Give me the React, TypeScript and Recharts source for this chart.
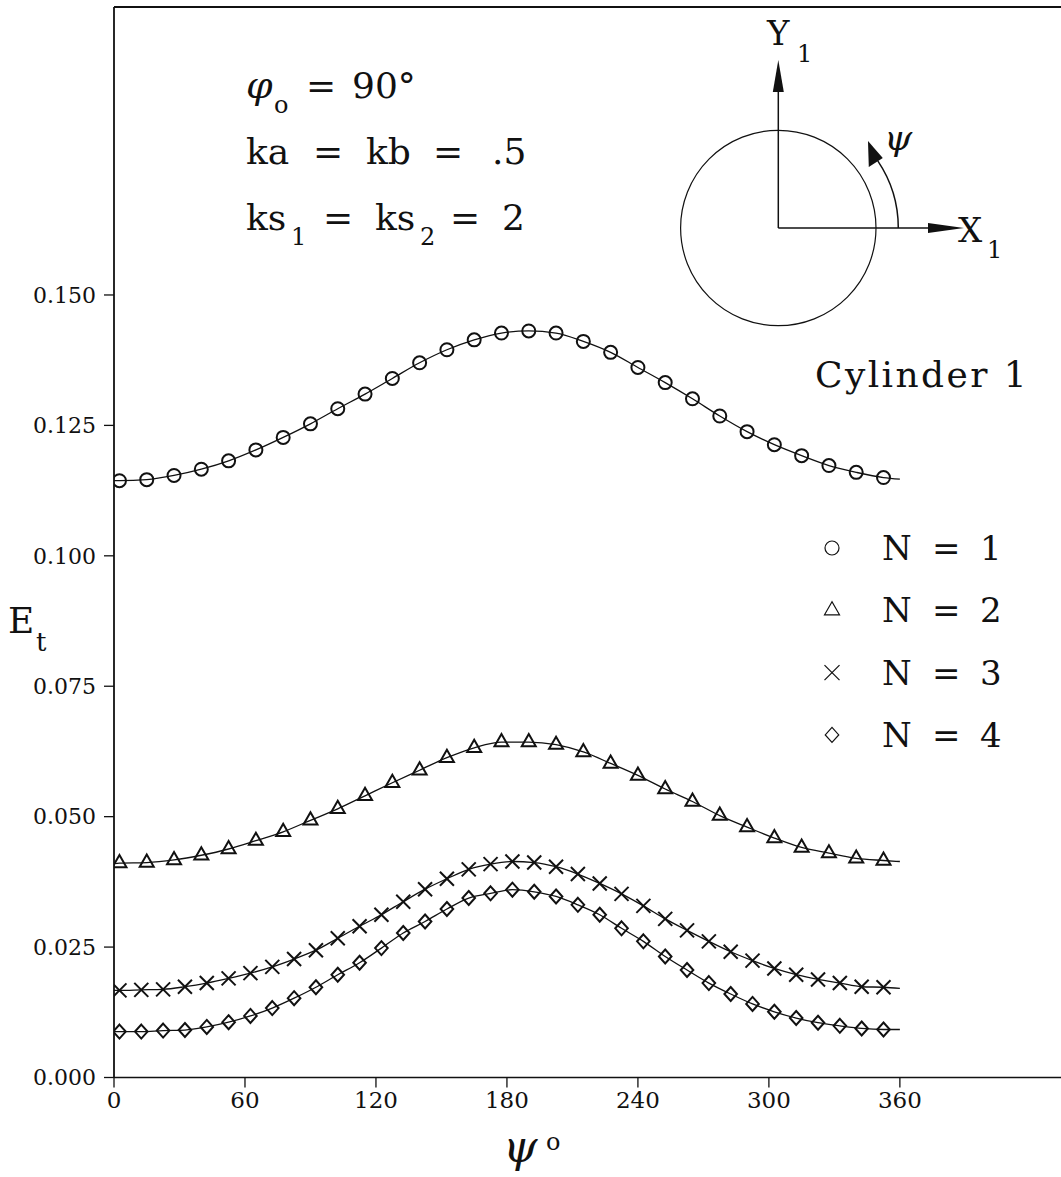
import { ComposedChart, Legend, Line, ReferenceLine, XAxis, YAxis } from 'recharts'

// psi (degrees) where the markers sit
const psiCoarse = [2.5, 15, 27.5, 40, 52.5, 65, 77.5, 90, 102.5, 115, 127.5, 140, 152.5, 165, 177.5, 190, 202.5, 215, 227.5, 240, 252.5, 265, 277.5, 290, 302.5, 315, 327.5, 340, 352.5]
const psiFine = [2.5, 12.5, 22.5, 32.5, 42.5, 52.5, 62.5, 72.5, 82.5, 92.5, 102.5, 112.5, 122.5, 132.5, 142.5, 152.5, 162.5, 172.5, 182.5, 192.5, 202.5, 212.5, 222.5, 232.5, 242.5, 252.5, 262.5, 272.5, 282.5, 292.5, 302.5, 312.5, 322.5, 332.5, 342.5, 352.5]

// E_t
const etN1 = [0.1144, 0.1146, 0.1154, 0.1166, 0.1182, 0.1203, 0.1227, 0.1253, 0.1282, 0.131, 0.134, 0.137, 0.1395, 0.1414, 0.1427, 0.1431, 0.1427, 0.1411, 0.139, 0.1361, 0.1332, 0.1301, 0.1268, 0.1238, 0.1213, 0.1192, 0.1173, 0.116, 0.115]
const etN2 = [0.0411, 0.0412, 0.0417, 0.0426, 0.0438, 0.0454, 0.0471, 0.0493, 0.0515, 0.054, 0.0565, 0.0589, 0.0613, 0.0632, 0.0643, 0.0643, 0.0638, 0.0624, 0.0602, 0.0579, 0.0553, 0.0529, 0.0502, 0.048, 0.0459, 0.0441, 0.043, 0.042, 0.0416]
const etN3 = [0.0167, 0.0168, 0.0169, 0.0174, 0.0181, 0.019, 0.02, 0.0212, 0.0227, 0.0244, 0.0267, 0.029, 0.0312, 0.0337, 0.0361, 0.0381, 0.0399, 0.0409, 0.0414, 0.0412, 0.0404, 0.039, 0.0372, 0.0352, 0.0329, 0.0304, 0.0282, 0.0261, 0.0241, 0.0224, 0.0209, 0.0197, 0.0188, 0.0181, 0.0174, 0.0173]
const etN4 = [0.0088, 0.0088, 0.009, 0.0091, 0.0097, 0.0106, 0.0118, 0.0133, 0.0152, 0.0173, 0.0197, 0.022, 0.0248, 0.0277, 0.0299, 0.0323, 0.0344, 0.0353, 0.036, 0.0356, 0.0347, 0.0331, 0.0312, 0.0286, 0.0261, 0.0232, 0.0206, 0.0181, 0.016, 0.0141, 0.0126, 0.0114, 0.0105, 0.0099, 0.0094, 0.0092]
// curve values at psi = 0 and psi = 360
const endsN1 = [0.1144, 0.1147]
const endsN2 = [0.041, 0.0414]
const endsN3 = [0.0167, 0.0171]
const endsN4 = [0.0088, 0.0092]

const seriesNames = ['N = 1', 'N = 2', 'N = 3', 'N = 4']
const markerKinds = ['circle', 'triangle', 'cross', 'diamond']
const xTicks = [0, 60, 120, 180, 240, 300, 360]
const yTicks = [0, 0.025, 0.05, 0.075, 0.1, 0.125, 0.15]
const X_MAX = 436.1
const Y_MAX = 0.2052

const FONT = '"DejaVu Serif", serif'
const INK = '#111'

function buildCurve(psi: number[], et: number[], ends: number[]) {
  return [
    { psi: 0, et: ends[0], mark: false },
    ...psi.map((p, i) => ({ psi: p, et: et[i], mark: true })),
    { psi: 360, et: ends[1], mark: false },
  ]
}

const curves = [
  buildCurve(psiCoarse, etN1, endsN1),
  buildCurve(psiCoarse, etN2, endsN2),
  buildCurve(psiFine, etN3, endsN3),
  buildCurve(psiFine, etN4, endsN4),
]

function Marker({ kind, cx, cy, s = 7, sw = 2 }: { kind: string; cx: number; cy: number; s?: number; sw?: number }) {
  const common = { fill: 'none', stroke: INK, strokeWidth: sw }
  if (kind === 'circle') return <circle cx={cx} cy={cy} r={s - 0.5} {...common} />
  if (kind === 'triangle')
    return <polygon points={`${cx},${cy - s - 1} ${cx - s},${cy + s * 0.6} ${cx + s},${cy + s * 0.6}`} {...common} />
  if (kind === 'cross')
    return (
      <g {...common}>
        <line x1={cx - s} y1={cy - s} x2={cx + s} y2={cy + s} />
        <line x1={cx - s} y1={cy + s} x2={cx + s} y2={cy - s} />
      </g>
    )
  return <polygon points={`${cx},${cy - s} ${cx + s * 0.9},${cy} ${cx},${cy + s} ${cx - s * 0.9},${cy}`} {...common} />
}

function LegendBox({ payload }: any) {
  const names = payload && payload.length ? payload.map((p: any) => p.value) : seriesNames
  return (
    <svg width={240} height={240} style={{ display: 'block' }}>
      {names.map((name: string, i: number) => {
        const y = 28 + i * 62.3
        const [lhs, rhs] = name.split('=')
        return (
          <g key={name}>
            <Marker kind={markerKinds[i]} cx={18} cy={y} s={7.5} sw={1.2} />
            <text x={68} y={y + 12} fontSize={34} fontFamily={FONT} fill={INK}>{lhs.trim()}</text>
            <text x={118} y={y + 12} fontSize={34} fontFamily={FONT} fill={INK}>=</text>
            <text x={166} y={y + 12} fontSize={34} fontFamily={FONT} fill={INK}>{rhs.trim()}</text>
          </g>
        )
      })}
    </svg>
  )
}

function Annotations() {
  const t = { fontFamily: FONT, fill: INK }
  const cx = 778.3
  const cy = 228
  const ra = 120
  const a0 = (34 * Math.PI) / 180
  const arcEndX = cx + ra * Math.cos(a0)
  const arcEndY = cy - ra * Math.sin(a0)
  return (
    <svg width={1061} height={1177} style={{ position: 'absolute', left: 0, top: 0, pointerEvents: 'none' }}>
      <text x={246} y={98} fontSize={38} fontStyle="italic" {...t}>φ</text>
      <text x={274} y={113} fontSize={24} {...t}>o</text>
      <text x={306} y={98} fontSize={36} {...t}>=</text>
      <text x={352} y={98} fontSize={36} {...t}>90°</text>

      <text x={246} y={164} fontSize={36} {...t}>ka</text>
      <text x={313} y={164} fontSize={36} {...t}>=</text>
      <text x={366} y={164} fontSize={36} {...t}>kb</text>
      <text x={433} y={164} fontSize={36} {...t}>=</text>
      <text x={492} y={164} fontSize={36} {...t}>.5</text>

      <text x={246} y={230} fontSize={36} {...t}>ks</text>
      <text x={291} y={245} fontSize={24} {...t}>1</text>
      <text x={323} y={230} fontSize={36} {...t}>=</text>
      <text x={375} y={230} fontSize={36} {...t}>ks</text>
      <text x={420} y={245} fontSize={24} {...t}>2</text>
      <text x={450} y={230} fontSize={36} {...t}>=</text>
      <text x={502} y={230} fontSize={36} {...t}>2</text>

      <text x={815} y={387} fontSize={36} letterSpacing={2.4} {...t}>Cylinder 1</text>

      {/* cylinder sketch */}
      <circle cx={cx} cy={cy} r={97.7} fill="none" stroke={INK} strokeWidth={1.2} />
      <line x1={cx} y1={cy} x2={cx} y2={88} stroke={INK} strokeWidth={1.5} />
      <polygon points={`${cx},60 ${cx - 5.5},92 ${cx + 5.5},92`} fill={INK} />
      <line x1={cx} y1={cy} x2={932} y2={cy} stroke={INK} strokeWidth={1.5} />
      <polygon points={`964,${cy} 928,${cy - 5} 928,${cy + 5}`} fill={INK} />
      <path d={`M ${cx + ra} ${cy} A ${ra} ${ra} 0 0 0 ${arcEndX} ${arcEndY}`} fill="none" stroke={INK} strokeWidth={1.5} />
      <polygon points={`868,141 ${arcEndX - 9},${arcEndY + 6} ${arcEndX + 5},${arcEndY - 3}`} fill={INK} />
      <text x={884} y={150} fontSize={36} fontStyle="italic" {...t}>ψ</text>
      <text x={767} y={45} fontSize={34} {...t}>Y</text>
      <text x={797} y={62} fontSize={24} {...t}>1</text>
      <text x={958} y={242} fontSize={34} {...t}>X</text>
      <text x={987} y={258} fontSize={24} {...t}>1</text>

      {/* axis titles */}
      <text x={8} y={633} fontSize={36} {...t}>E</text>
      <text x={36} y={651} fontSize={26} {...t}>t</text>
      <text x={503} y={1162} fontSize={44} fontStyle="italic" {...t}>ψ</text>
      <text x={546} y={1150} fontSize={24} {...t}>o</text>
    </svg>
  )
}

export default function App() {
  return (
    <div style={{ position: 'absolute', left: 0, top: 0, width: 1061, height: 1177, overflow: 'hidden', background: '#fff' }}>
      <ComposedChart width={1066} height={1177} margin={{ top: 7, right: 0, bottom: 0, left: 0 }}>
        <XAxis
          dataKey="psi"
          type="number"
          domain={[0, X_MAX]}
          allowDataOverflow
          ticks={xTicks}
          height={99.5}
          tickSize={10}
          tickMargin={4}
          axisLine={{ stroke: INK, strokeWidth: 1.6 }}
          tickLine={{ stroke: INK, strokeWidth: 1.3 }}
          tick={{ fill: INK, fontSize: 23, fontFamily: FONT }}
        />
        <YAxis
          type="number"
          domain={[0, Y_MAX]}
          allowDataOverflow
          ticks={yTicks}
          width={114}
          tickSize={10}
          tickMargin={8}
          tickFormatter={(v: number) => v.toFixed(3)}
          axisLine={{ stroke: INK, strokeWidth: 1.8 }}
          tickLine={{ stroke: INK, strokeWidth: 1.3 }}
          tick={{ fill: INK, fontSize: 22, fontFamily: FONT }}
        />
        {/* top edge of the frame */}
        <ReferenceLine y={Y_MAX} stroke={INK} strokeWidth={2} />
        <Legend
          layout="vertical"
          align="center"
          verticalAlign="middle"
          wrapperStyle={{ left: 814, top: 520, width: 240, height: 240 }}
          content={(props: any) => <LegendBox {...props} />}
        />
        {curves.map((data, i) => (
          <Line
            key={seriesNames[i]}
            data={data}
            dataKey="et"
            name={seriesNames[i]}
            type="monotone"
            stroke={INK}
            strokeWidth={1.3}
            isAnimationActive={false}
            activeDot={false}
            legendType="none"
            dot={(p: any) =>
              p.payload && p.payload.mark ? (
                <Marker key={`${i}-${p.index}`} kind={markerKinds[i]} cx={p.cx} cy={p.cy} />
              ) : (
                <g key={`${i}-${p.index}`} />
              )
            }
          />
        ))}
      </ComposedChart>
      <Annotations />
    </div>
  )
}
